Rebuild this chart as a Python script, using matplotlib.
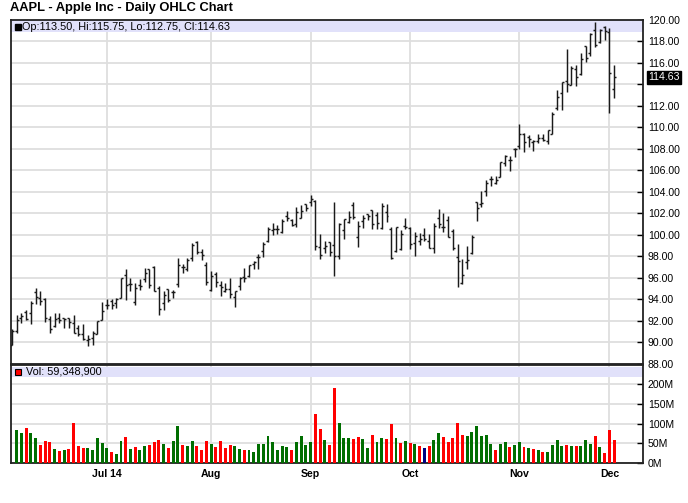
import matplotlib
matplotlib.use('Agg')
import matplotlib.pyplot as plt
from matplotlib.patches import Rectangle
import numpy as np

plt.rcParams['font.family'] = ['Liberation Sans', 'DejaVu Sans']

# daily OHLC, Jun 3 2014 .. Dec 2 2014 (128 sessions), volume in millions
opens = [89.78, 91.06, 92.31, 92.84, 92.70, 94.73, 94.13, 94.04, 92.20, 91.51,
         92.31, 92.27, 92.29, 91.85, 91.32, 90.75, 90.21, 90.37, 90.82, 92.10,
         93.52, 93.87, 93.67, 94.14, 96.27, 95.44, 93.76, 95.36, 95.86, 96.80,
         96.97, 95.03, 93.62, 94.99, 94.68, 95.42, 97.04, 96.85, 97.82, 99.33,
         98.44, 97.16,
         94.90, 96.37, 95.36, 94.75, 94.93, 94.26, 95.27, 96.04, 96.15, 97.33,
         97.90, 98.49, 99.41, 100.44, 100.57, 100.29, 101.79, 101.42, 101.02, 101.59,
         102.86,
         103.06, 103.10, 98.85, 98.80, 99.30, 99.08, 98.01, 100.41, 101.21, 102.81,
         99.80, 101.27, 101.93, 102.29, 101.80, 100.60, 102.16, 100.51, 98.53, 98.65,
         100.81,
         100.59, 99.27, 99.44, 99.95, 99.43, 98.76, 101.54, 100.69, 101.33, 100.39,
         97.97, 95.55, 97.50, 98.32, 103.02, 102.84, 104.08, 105.18, 104.85, 105.40,
         106.65, 106.96, 108.01,
         108.22, 109.36, 109.10, 108.60, 108.75, 109.02, 108.70, 109.38, 111.80, 113.15,
         114.27, 113.94, 115.44, 114.91, 117.51, 116.85, 119.07, 117.94, 119.27,
         118.81, 113.50]
highs = [91.25, 92.56, 92.77, 93.04, 93.88, 95.05, 94.76, 94.12, 92.44, 92.75,
         92.70, 92.29, 92.30, 92.55, 91.62, 91.74, 90.70, 91.05, 92.00, 93.73,
         94.07, 94.06, 94.10, 95.99, 96.80, 95.95, 95.55, 95.89, 96.89, 96.85,
         97.10, 95.28, 94.74, 95.00, 94.89, 97.88, 97.32, 97.84, 99.24, 99.44,
         98.70, 97.45,
         96.62, 96.58, 95.68, 95.48, 95.95, 94.82, 96.08, 96.88, 97.24, 97.57,
         98.19, 99.37, 100.68, 101.09, 100.94, 101.47, 102.17, 101.50, 102.57, 102.78,
         102.90,
         103.74, 103.20, 100.09, 99.39, 99.31, 103.08, 101.11, 101.44, 102.19, 103.05,
         101.26, 101.80, 101.93, 102.35, 102.14, 102.94, 102.85, 100.71, 100.75, 100.44,
         101.54,
         100.69, 100.22, 100.21, 100.65, 100.12, 101.11, 102.38, 102.03, 101.78, 100.52,
         99.15, 97.72, 99.00, 99.96, 103.02, 104.11, 105.05, 105.49, 105.48, 106.74,
         107.37, 107.35, 108.04,
         110.30, 109.49, 109.30, 108.79, 109.32, 109.33, 109.75, 111.43, 113.45, 114.19,
         117.28, 115.69, 115.74, 116.86, 117.57, 118.77, 119.75, 119.10, 119.40,
         119.25, 115.75]
lows = [89.75, 90.87, 91.80, 92.07, 91.75, 93.57, 93.47, 91.90, 90.88, 91.45,
        91.80, 91.35, 91.34, 90.90, 90.60, 90.19, 89.65, 89.80, 90.77, 92.09,
        93.13, 93.09, 93.20, 94.10, 93.92, 94.76, 93.52, 94.86, 95.65, 95.03,
        94.74, 92.57, 93.02, 93.72, 94.12, 95.17, 96.42, 96.64, 97.55, 98.25,
        97.67, 95.33,
        94.81, 95.17, 94.36, 94.71, 94.10, 93.28, 94.84, 95.61, 96.04, 96.80,
        96.86, 97.98, 99.32, 99.95, 100.11, 100.19, 101.28, 100.86, 100.70, 101.56,
        102.20,
        102.72, 98.58, 97.79, 98.31, 98.05, 96.14, 97.76, 99.62, 101.08, 101.44,
        98.89, 100.59, 101.41, 100.50, 100.58, 100.54, 101.20, 97.72, 98.40, 98.63,
        100.53,
        98.70, 98.04, 99.04, 99.42, 98.73, 98.31, 100.61, 100.30, 99.81, 98.57,
        95.18, 95.41, 96.81, 98.22, 101.27, 102.60, 103.63, 104.53, 104.70, 105.35,
        106.36, 105.90, 107.21,
        108.01, 107.72, 108.12, 107.80, 108.55, 108.67, 108.40, 109.37, 111.60, 111.56,
        113.30, 113.89, 113.80, 114.85, 116.03, 116.62, 117.45, 117.83, 118.05,
        111.27, 112.75]
closes = [91.08, 92.12, 92.48, 92.22, 93.70, 94.25, 93.86, 92.29, 91.28, 92.20,
          92.08, 92.18, 91.86, 90.91, 90.83, 90.28, 90.36, 90.90, 91.98, 92.93,
          93.52, 93.48, 94.03, 95.97, 95.35, 95.39, 95.04, 95.22, 96.45, 95.32,
          94.78, 93.09, 94.43, 93.94, 94.72, 97.19, 97.03, 97.67, 99.02, 98.38,
          98.15, 95.60,
          96.13, 95.59, 95.12, 94.96, 94.48, 94.74, 95.99, 95.97, 97.24, 97.50,
          97.98, 99.16, 100.53, 100.57, 100.58, 101.32, 101.54, 100.89, 102.13, 102.25,
          102.50,
          103.30, 98.94, 98.12, 98.97, 98.36, 97.99, 101.00, 101.43, 101.66, 101.63,
          100.86, 101.58, 101.79, 100.96, 101.06, 102.64, 101.75, 97.87, 100.75, 100.11,
          100.75,
          99.18, 99.90, 99.62, 99.62, 98.75, 100.80, 101.02, 100.73, 99.81, 98.75,
          97.54, 96.26, 97.67, 99.76, 102.47, 102.99, 104.83, 105.22, 105.11, 106.74,
          107.34, 106.98, 108.00,
          109.40, 108.60, 108.86, 108.70, 109.01, 108.83, 109.70, 111.25, 112.82, 114.18,
          113.99, 115.47, 114.67, 116.31, 116.47, 118.63, 117.60, 119.00, 118.93,
          115.07, 114.63]
volumes = [73.2, 83.9, 75.9, 87.6, 75.4, 62.8, 45.7, 54.7, 54.5, 35.6,
           29.7, 33.6, 35.5, 100.9, 43.7, 39.0, 36.9, 32.6, 64.0, 49.6,
           38.2, 28.4, 22.9, 56.5, 65.1, 36.4, 39.7, 34.0, 42.8, 45.5,
           53.4, 57.3, 49.0, 39.1, 55.2, 92.9, 45.7, 43.5, 55.3, 43.1,
           33.0, 56.8,
           48.5, 39.9, 55.9, 38.6, 46.7, 41.9, 36.6, 33.8, 31.9, 28.1,
           48.9, 47.6, 69.2, 52.7, 33.5, 44.2, 40.3, 33.2, 52.4, 68.5,
           44.6,
           53.6, 125.4, 85.7, 58.5, 46.3, 189.8, 100.9, 62.4, 62.6, 61.2,
           66.8, 60.9, 37.3, 70.9, 52.8, 63.4, 60.2, 100.1, 62.4, 49.8,
           55.3,
           51.5, 47.8, 43.5, 37.1, 42.1, 57.4, 77.4, 66.3, 53.6, 63.7,
           100.9, 72.2, 68.2, 77.5, 94.6, 68.3, 71.1, 47.1, 34.2, 48.0,
           52.7, 40.7, 44.6,
           52.3, 41.6, 37.4, 34.9, 33.7, 27.2, 27.4, 46.9, 59.5, 44.1,
           46.7, 44.2, 41.9, 43.4, 57.2, 47.5, 68.8, 40.8, 24.8,
           83.8, 59.3489]

month_pos = [20, 42, 63, 84, 107, 126]
month_labels = ['Jul 14', 'Aug', 'Sep', 'Oct', 'Nov', 'Dec']

x = np.arange(len(closes))
o = np.array(opens)
h = np.array(highs)
l = np.array(lows)
c = np.array(closes)
v = np.array(volumes)

W, H = 688, 503
fig = plt.figure(figsize=(W / 100, H / 100), dpi=100)
ax = fig.add_axes([11 / W, 1 - 364 / H, 632 / W, 344.5 / H])
axv = fig.add_axes([11 / W, 1 - 463 / H, 632 / W, 98.5 / H])

fig.text(10 / W, 1 - 8 / H, 'AAPL - Apple Inc - Daily OHLC Chart',
         fontsize=9.3, fontweight='bold', ha='left', va='center')

grid_c = '#dedede'
band_c = '#e1e1fa'
bar_c = '#1a1a1a'

# price panel
ax.set_xlim(-0.2, 133.1)
ax.set_ylim(88, 120)
ticks = np.arange(88, 120.1, 2)
ax.set_yticks(ticks)
ax.set_yticklabels(['' if abs(t - 114) < 0.01 else f'{t:.2f}' for t in ticks])
ax.yaxis.tick_right()
ax.tick_params(axis='y', direction='in', length=4, width=1, pad=3.6,
               labelsize=7.6, right=True, left=False)
ax.set_xticks(month_pos)
ax.tick_params(axis='x', length=0, labelbottom=False)
ax.grid(True, color=grid_c, lw=1.3, zorder=0)
ax.set_axisbelow(True)
for s in ax.spines.values():
    s.set_linewidth(1.3)
    s.set_color('#222222')

ax.add_patch(Rectangle((0, 1 - 12.2 / 344.5), 1, 12.2 / 344.5, transform=ax.transAxes,
                       fc=band_c, ec='none', zorder=1))
ax.vlines(x, l, h, color=bar_c, lw=1.05, zorder=3)
ax.hlines(o, x - 0.42, x, color=bar_c, lw=1.05, zorder=3)
ax.hlines(c, x, x + 0.42, color=bar_c, lw=1.05, zorder=3)

ax.plot([(17.5 - 11) / 632], [1 - 7 / 344.5], marker='s', ms=4.8, color='black',
        transform=ax.transAxes, clip_on=False, zorder=4)
ax.text((22.5 - 11) / 632, 1 - 7 / 344.5,
        f'Op:{o[-1]:.2f}, Hi:{h[-1]:.2f}, Lo:{l[-1]:.2f}, Cl:{c[-1]:.2f}',
        transform=ax.transAxes, fontsize=7.8, va='center', ha='left', zorder=4)

ax.annotate(f'{c[-1]:.2f}', xy=(1, c[-1]), xycoords=('axes fraction', 'data'),
            xytext=(3.6, 0), textcoords='offset points', ha='left', va='center',
            color='white', fontsize=7.6,
            bbox=dict(boxstyle='square,pad=0.12', fc='black', ec='black'))

# volume panel
cols = []
for i in range(len(c)):
    if i == 0 or c[i] > c[i - 1]:
        cols.append('#006e00')
    elif c[i] < c[i - 1]:
        cols.append('#ff0000')
    else:
        cols.append('#000080')

axv.set_xlim(-0.2, 133.1)
axv.set_ylim(0, 250)
axv.set_yticks([0, 50, 100, 150, 200])
axv.set_yticklabels(['0M', '50M', '100M', '150M', '200M'])
axv.yaxis.tick_right()
axv.tick_params(axis='y', direction='in', length=4, width=1, pad=3.6,
                labelsize=7.6, right=True, left=False)
axv.set_xticks(month_pos)
axv.set_xticklabels(month_labels, fontweight='bold')
axv.tick_params(axis='x', length=0, pad=4, labelsize=7.6)
axv.grid(True, color=grid_c, lw=1.3, zorder=0)
axv.set_axisbelow(True)
for s in axv.spines.values():
    s.set_linewidth(1.3)
    s.set_color('#222222')

axv.add_patch(Rectangle((0, 1 - 12.5 / 98.5), 1, 10.5 / 98.5, transform=axv.transAxes,
                        fc=band_c, ec='none', zorder=1))
axv.bar(x[1:], v[1:], width=0.62, color=cols[1:], zorder=3)

axv.plot([(18.3 - 11) / 632], [1 - 7.5 / 98.5], marker='s', ms=4.8, mfc='#ff0000',
         mec='black', mew=0.8, transform=axv.transAxes, clip_on=False, zorder=4)
axv.text((25.5 - 11) / 632, 1 - 7.5 / 98.5, f'Vol: {round(v[-1] * 1e6):,}',
         transform=axv.transAxes, fontsize=7.8, va='center', ha='left', zorder=4)

fig.savefig('out.png', dpi=100)
